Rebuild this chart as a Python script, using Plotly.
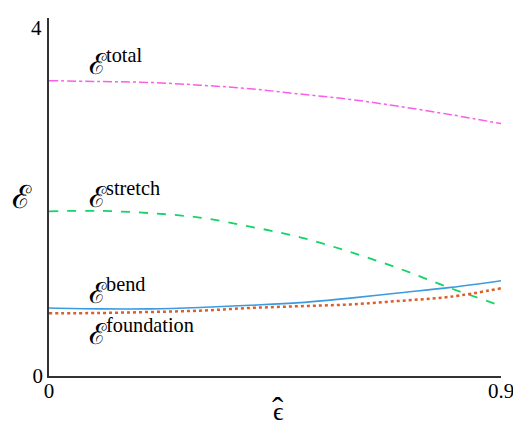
import plotly.graph_objects as go

# strain values (x axis, epsilon hat)
eps = [0.0, 0.1, 0.2, 0.3, 0.4, 0.5, 0.6, 0.7, 0.8, 0.9]

# energies
e_total = [3.30, 3.29, 3.28, 3.25, 3.21, 3.15, 3.09, 3.01, 2.92, 2.82]
e_stretch = [1.84, 1.845, 1.82, 1.77, 1.67, 1.55, 1.385, 1.195, 0.98, 0.785]
e_bend = [0.76, 0.75, 0.75, 0.765, 0.79, 0.82, 0.87, 0.93, 0.99, 1.065]
e_found = [0.70, 0.704, 0.715, 0.73, 0.76, 0.78, 0.80, 0.84, 0.886, 0.98]

labels = ["total", "stretch", "bend", "foundation"]
label_y = [3.50, 2.02, 0.94, 0.49]

SERIF = "Liberation Serif, DejaVu Serif, serif"
EFONT = "DejaVu Serif"

fig = go.Figure()
fig.add_trace(go.Scatter(x=eps, y=e_total, mode="lines", line_shape="spline",
                         line=dict(color="#fb5ce9", width=1.5, dash="dashdot")))
fig.add_trace(go.Scatter(x=eps, y=e_stretch, mode="lines", line_shape="spline",
                         line=dict(color="#14d468", width=1.8, dash="dash")))
fig.add_trace(go.Scatter(x=eps, y=e_bend, mode="lines", line_shape="spline",
                         line=dict(color="#3c9ae0", width=1.6)))
fig.add_trace(go.Scatter(x=eps, y=e_found, mode="lines", line_shape="spline",
                         line=dict(color="#da5f2b", width=2.5, dash="dot")))

for name, yv in zip(labels, label_y):
    fig.add_annotation(
        x=0.075, y=yv, showarrow=False, xanchor="left", yanchor="middle",
        text=f"<span style='font-family:{EFONT}'>ℰ</span><sup>{name}</sup>",
        font=dict(family=SERIF, size=29, color="black"))

# top y tick label sits just under the axis end, like the reference
fig.add_annotation(x=-0.012, xref="paper", y=4, yref="y", text="4", showarrow=False,
                   xanchor="right", yanchor="top", yshift=4,
                   font=dict(family=SERIF, size=21, color="black"))

# axis titles
fig.add_annotation(x=-0.06, y=0.5, xref="paper", yref="paper", text="ℰ", showarrow=False,
                   xanchor="center", yanchor="middle",
                   font=dict(family=EFONT, size=32, color="black"))
fig.add_annotation(x=0.508, y=-0.098, xref="paper", yref="paper", text="ϵ", showarrow=False,
                   xanchor="center", yanchor="middle",
                   font=dict(family=SERIF, size=26, color="black"))
fig.add_annotation(x=0.506, y=-0.093, xref="paper", yref="paper", text="ˆ", showarrow=False,
                   xanchor="center", yanchor="middle",
                   font=dict(family=SERIF, size=34, color="black"))

fig.update_layout(
    width=513, height=419,
    margin=dict(l=41, r=20, t=10, b=51),
    paper_bgcolor="white", plot_bgcolor="white",
    showlegend=False,
    xaxis=dict(range=[0, 0.9], tickvals=[0, 0.9], ticktext=["0", "0.9"], automargin=False,
               ticklabeloverflow="allow", ticklabelstandoff=-5,
               showgrid=False, zeroline=False, showline=True, linecolor="#333",
               linewidth=1.5, ticks="", tickfont=dict(family=SERIF, size=21, color="black")),
    yaxis=dict(range=[0, 4], tickvals=[0], ticktext=["0"], automargin=False,
               ticklabeloverflow="allow",
               showgrid=False, zeroline=False, showline=True, linecolor="#333",
               linewidth=1.5, ticks="", tickfont=dict(family=SERIF, size=21, color="black")),
)

fig.write_html("out.html")
